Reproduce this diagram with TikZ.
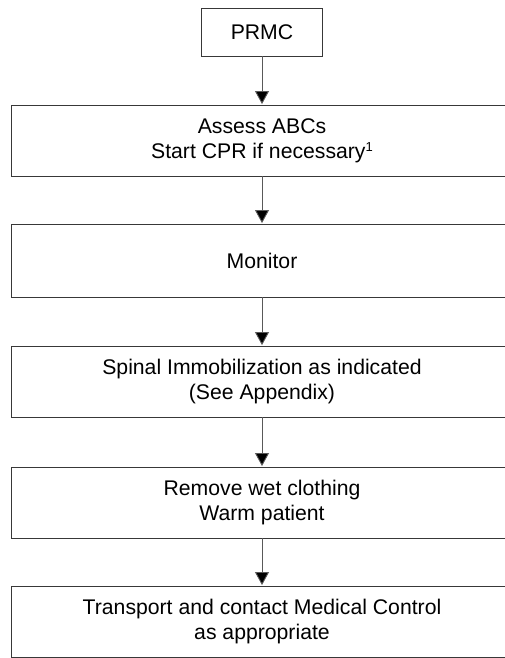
\documentclass[tikz,border=0pt]{standalone}
\usepackage{fontspec}
\setmainfont{Liberation Sans}
\usetikzlibrary{arrows.meta}
\tikzset{
  box/.style={draw=black!78, line width=0.9pt, fill=white, align=center, inner sep=0pt,
    font=\fontsize{21.2}{25}\selectfont},
  bigbox/.style={box, minimum width=502pt, minimum height=71pt},
  flow/.style={draw=black!65, line width=0.9pt, -{Triangle[length=13pt,width=14pt,fill=black]}, shorten >=0.5pt}
}
\newcommand{\supone}{\raisebox{0.33em}{\fontsize{13}{13}\selectfont 1}}
\begin{document}
\begin{tikzpicture}[x=1pt,y=-1pt]
\useasboundingbox (0,0) rectangle (504,658);
\node[box, minimum width=121pt, minimum height=48pt] (p) at (262,32) {PRMC};
\node[bigbox] (a) at (262,140.5) {Assess ABCs\\Start CPR if necessary\supone};
\node[bigbox, minimum height=73pt] (m) at (262,260.5) {Monitor};
\node[bigbox] (s) at (262,381.5) {Spinal Immobilization as indicated\\(See Appendix)};
\node[bigbox] (r) at (262,502.5) {Remove wet clothing\\Warm patient};
\node[bigbox] (t) at (262,621.5) {Transport and contact Medical Control\\as appropriate};
\draw[flow] (p) -- (a);
\draw[flow] (a) -- (m);
\draw[flow] (m) -- (s);
\draw[flow] (s) -- (r);
\draw[flow] (r) -- (t);
\end{tikzpicture}
\end{document}
